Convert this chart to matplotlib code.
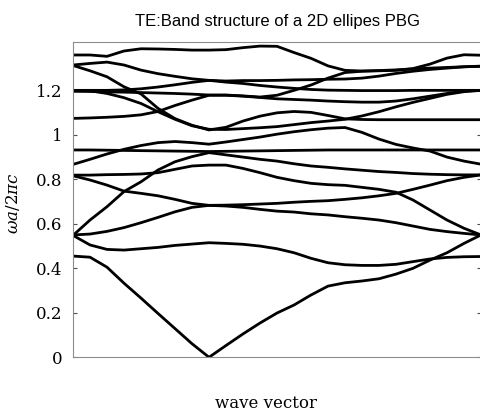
import matplotlib
matplotlib.use("Agg")
import matplotlib.pyplot as plt

# sample points along the wave vector path (Gamma at index 8)
wave_k = [0, 1, 2, 3, 4, 5, 6, 7, 8, 9, 10, 11, 12,
          13, 14, 15, 16, 17, 18, 19, 20, 21, 22, 23, 24]

# normalized frequencies, one list per band
band_01 = [0.455, 0.450, 0.405, 0.333, 0.266, 0.197, 0.129, 0.061, 0.000, 0.053, 0.105, 0.154, 0.199,
           0.235, 0.280, 0.320, 0.335, 0.343, 0.353, 0.374, 0.400, 0.437, 0.470, 0.512, 0.550]
band_02 = [0.548, 0.505, 0.485, 0.482, 0.488, 0.494, 0.503, 0.509, 0.515, 0.512, 0.508, 0.500, 0.488,
           0.470, 0.445, 0.425, 0.416, 0.413, 0.413, 0.418, 0.430, 0.442, 0.449, 0.452, 0.453]
band_03 = [0.548, 0.617, 0.677, 0.745, 0.789, 0.842, 0.879, 0.902, 0.920, 0.910, 0.900, 0.890, 0.882,
           0.870, 0.860, 0.854, 0.847, 0.841, 0.835, 0.831, 0.826, 0.823, 0.821, 0.820, 0.820]
band_04 = [0.550, 0.554, 0.566, 0.583, 0.605, 0.629, 0.654, 0.674, 0.683, 0.684, 0.686, 0.689, 0.692,
           0.697, 0.701, 0.704, 0.710, 0.717, 0.726, 0.737, 0.755, 0.774, 0.794, 0.809, 0.820]
band_05 = [0.819, 0.819, 0.821, 0.822, 0.824, 0.830, 0.845, 0.860, 0.864, 0.864, 0.849, 0.830, 0.809,
           0.794, 0.782, 0.776, 0.773, 0.764, 0.755, 0.742, 0.707, 0.662, 0.617, 0.580, 0.550]
band_06 = [0.816, 0.797, 0.774, 0.747, 0.737, 0.726, 0.710, 0.692, 0.683, 0.680, 0.674, 0.665, 0.657,
           0.653, 0.645, 0.640, 0.632, 0.625, 0.617, 0.605, 0.590, 0.575, 0.565, 0.557, 0.550]
band_07 = [0.867, 0.890, 0.914, 0.935, 0.952, 0.965, 0.970, 0.965, 0.958, 0.968, 0.979, 0.990, 1.003,
           1.014, 1.023, 1.030, 1.033, 1.011, 0.981, 0.957, 0.941, 0.927, 0.900, 0.882, 0.868]
band_08 = [0.932, 0.932, 0.931, 0.930, 0.929, 0.928, 0.927, 0.926, 0.925, 0.926, 0.927, 0.928, 0.929,
           0.930, 0.931, 0.932, 0.932, 0.932, 0.932, 0.932, 0.932, 0.932, 0.932, 0.932, 0.932]
band_09 = [1.312, 1.288, 1.261, 1.216, 1.184, 1.119, 1.073, 1.043, 1.022, 1.034, 1.062, 1.084, 1.099,
           1.105, 1.101, 1.087, 1.072, 1.069, 1.068, 1.068, 1.068, 1.068, 1.068, 1.068, 1.068]
band_10 = [1.198, 1.198, 1.186, 1.167, 1.141, 1.104, 1.070, 1.041, 1.025, 1.024, 1.028, 1.032, 1.037,
           1.046, 1.055, 1.062, 1.070, 1.085, 1.104, 1.126, 1.146, 1.164, 1.182, 1.194, 1.200]
band_11 = [1.074, 1.076, 1.079, 1.083, 1.090, 1.105, 1.132, 1.156, 1.178, 1.178, 1.174, 1.168, 1.162,
           1.159, 1.156, 1.152, 1.149, 1.147, 1.147, 1.152, 1.162, 1.174, 1.186, 1.197, 1.200]
band_12 = [1.196, 1.195, 1.193, 1.192, 1.190, 1.188, 1.186, 1.183, 1.179, 1.179, 1.175, 1.170, 1.178,
           1.200, 1.224, 1.255, 1.280, 1.286, 1.289, 1.292, 1.296, 1.300, 1.303, 1.306, 1.308]
band_13 = [1.200, 1.200, 1.200, 1.202, 1.207, 1.215, 1.225, 1.236, 1.245, 1.237, 1.231, 1.222, 1.215,
           1.209, 1.204, 1.201, 1.200, 1.199, 1.199, 1.199, 1.200, 1.200, 1.200, 1.200, 1.200]
band_14 = [1.314, 1.321, 1.327, 1.314, 1.291, 1.275, 1.263, 1.252, 1.245, 1.242, 1.244, 1.244, 1.245,
           1.247, 1.248, 1.250, 1.251, 1.255, 1.264, 1.276, 1.286, 1.294, 1.300, 1.306, 1.309]
band_15 = [1.359, 1.359, 1.353, 1.377, 1.387, 1.386, 1.384, 1.381, 1.381, 1.383, 1.392, 1.399, 1.398,
           1.370, 1.344, 1.310, 1.290, 1.287, 1.288, 1.290, 1.298, 1.318, 1.345, 1.360, 1.358]

bands = [band_01, band_02, band_03, band_04, band_05, band_06, band_07, band_08,
         band_09, band_10, band_11, band_12, band_13, band_14, band_15]

y_ticks = [0, 0.2, 0.4, 0.6, 0.8, 1.0, 1.2]
y_tick_labels = ["0", "0.2", "0.4", "0.6", "0.8", "1", "1.2"]

plt.rcParams["mathtext.fontset"] = "dejavuserif"

fig = plt.figure(figsize=(4.81, 4.12), dpi=100)
ax = fig.add_axes([0.1518, 0.1328, 0.8482, 0.7645])

for band in bands:
    ax.plot(wave_k, band, color="black", linewidth=2.0,
            solid_joinstyle="round", solid_capstyle="round")

ax.set_xlim(0, 24)
ax.set_ylim(0, 1.416)

ax.set_xticks([])
ax.set_yticks(y_ticks)
ax.set_yticklabels(y_tick_labels, family="DejaVu Serif", fontsize=12)
ax.tick_params(axis="y", direction="in", length=3, width=0.8, color="0.3",
               left=True, right=True, pad=7.5)

for side in ["left", "top", "bottom"]:
    ax.spines[side].set_color("0.55")
    ax.spines[side].set_linewidth(0.8)
    ax.spines[side].set_linestyle((0, (4, 1)))
ax.spines["right"].set_visible(False)

ax.set_title("TE:Band structure of a 2D ellipes PBG", family="Liberation Sans",
             fontsize=12, pad=12)
ax.set_xlabel("wave vector", family="DejaVu Serif", fontsize=12, va="baseline")
ax.xaxis.set_label_coords(0.473, -0.160)
ax.set_ylabel(r"$\omega a/2\pi c$", fontsize=12, va="center")
ax.yaxis.set_label_coords(-0.147, 0.49)

fig.savefig("out.png", dpi=100)
